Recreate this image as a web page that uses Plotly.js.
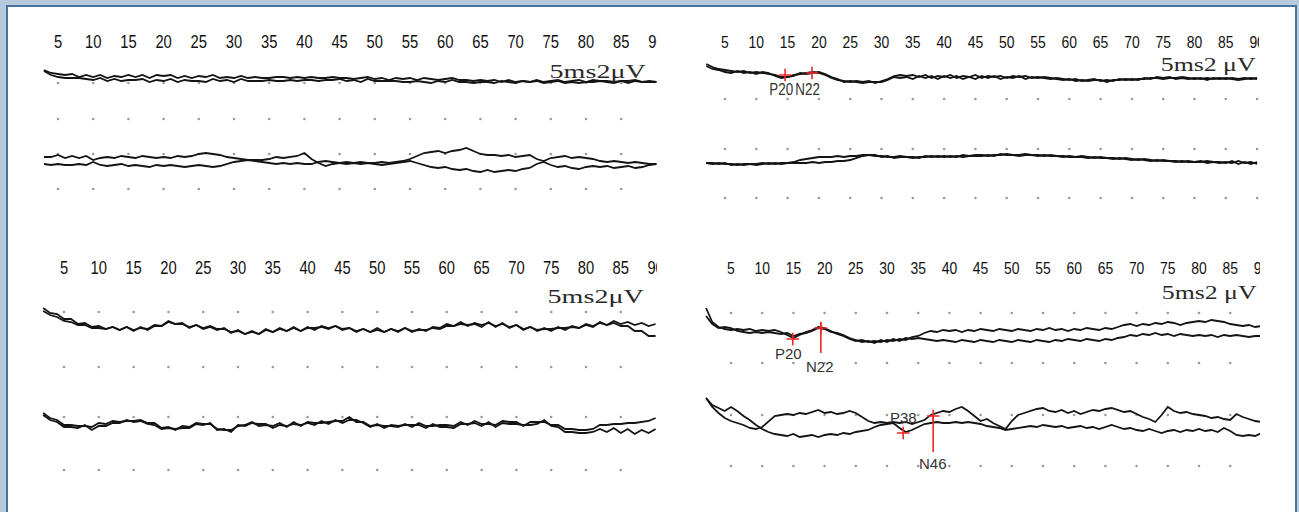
<!DOCTYPE html>
<html><head><meta charset="utf-8">
<script src="https://cdn.plot.ly/plotly-3.0.1.min.js"></script>
<style>
html,body{margin:0;padding:0;background:#fff}
#chart{width:1299px;height:512px}
/* narrow the tick digits like the reference */
#chart .textpoint text{transform-box:fill-box;transform-origin:50% 50%;transform:scaleX(0.82)}
/* wide serif scale labels, anchored on their right edge */
#chart .annotation[data-index="0"] text,#chart .annotation[data-index="2"] text{transform-box:fill-box;transform-origin:100% 50%;transform:scaleX(1.48)}
#chart .annotation[data-index="1"] text,#chart .annotation[data-index="3"] text{transform-box:fill-box;transform-origin:100% 50%;transform:scaleX(1.36)}
/* narrow peak labels in the top-right panel */
#chart .annotation[data-index="4"] text,#chart .annotation[data-index="5"] text{transform-box:fill-box;transform-origin:50% 50%;transform:scaleX(0.84)}
</style>
</head><body><div id="chart"></div>
<script>
// ---------------- DATA ----------------
// time axis tick labels (ms)
const tickLabels = [5,10,15,20,25,30,35,40,45,50,55,60,65,70,75,80,85,90];
// traces: amplitude samples, one per ms, positive = up (display units, 0.1 µV)
// Top-left panel, channel 1 (samples from 3 ms)
const tl1a = [9,6,5,4,5,2,4,2,4,1, 3,2,4,2,4,1,4,3,4,1, 3,1,3,2,4,1,2,1,3,1, 2,1,1,2,2,1,2,1,2,1, 1,2,1,1,0,1,2,0,1,-1, 1,0,1,-1,1,0,-1,0,1,-1, -1,-2,-1,-2,-1,-3,-1,-3,-2,-3, -1,-3,-2,-1,-3,-2,-1,-3,-1,-2, -2,-3,-2,-2,-1,-3,-2,-3];
const tl1b = [8,4,2,1,1,1,0,-1,1,-2, 0,-2,-1,-1,0,-3,-1,-2,0,-3, -1,-2,-2,-3,0,-2,-1,-3,0,-2, -2,-2,-1,-2,-2,-1,-2,-1,-1,-2, -1,-1,0,-2,-1,-3,0,-2,-2,-2, -2,-3,-3,-2,-3,-4,-2,-3,-1,-3, -3,-4,-3,-3,-4,-2,-3,-4,-2,-3, -2,-4,-3,-2,-4,-3,-4,-3,-3,-2, -3,-4,-2,-4,-2,-3,-3,-3];
// Top-left panel, channel 2 (from 3 ms)
const tl2a = [4,4,6,3,5,3,5,1,3,4, 3,5,4,3,5,4,3,4,3,5, 4,5,7,8,7,6,4,3,2,1, 1,1,2,4,3,4,5,8,2,-2, -5,-3,-2,-1,-2,-1,-2,-2,-1,-2, -1,0,2,5,8,9,10,8,10,11, 13,10,7,6,6,5,6,4,5,6, 2,0,3,4,5,3,4,3,2,0, -1,0,-1,-2,-1,-2,-3,-3];
const tl2b = [-3,-4,-3,-4,-4,-3,-4,-1,-4,-5, -4,-3,-5,-4,-5,-6,-4,-5,-4,-5, -6,-5,-4,-5,-6,-5,-3,-1,0,1, 0,-1,-2,-3,-2,-3,-2,-3,-3,-1, 0,-1,-2,-3,-2,-3,-2,-3,-4,-3, -2,-1,0,-2,-4,-6,-7,-6,-8,-9, -8,-10,-11,-9,-11,-10,-9,-10,-8,-7, -3,-1,-4,-6,-5,-7,-8,-6,-5,-6, -5,-7,-6,-5,-7,-6,-4,-3];
// Top-right panel, channel 1 (from 2 ms)
const tr1a = [14,11,9,8,7,6,7,5,6,5, 4,3,1,1,3,4,5,6,5,3, 0,-2,-3,-4,-3,-4,-3,-5,-3,-1, 2,3,2,3,1,3,0,2,1,3, 0,2,1,3,0,2,1,2,0,2, 1,2,0,1,0,-1,0,-1,-2,-1, -3,-2,-1,-3,-2,-3,-1,-2,-1,-2, 0,-1,1,0,1,-1,0,-1,0,-1, 0,-1,0,-1,0,-1,0,-1,0];
const tr1b = [12,9,8,6,5,7,5,6,4,6, 5,2,0,1,2,5,4,5,6,4, 1,-1,-4,-3,-4,-5,-4,-4,-4,-2, 1,0,1,-1,2,0,2,-1,2,0, 2,-1,1,-1,2,0,2,-1,1,0, 2,-1,1,0,1,0,-1,-2,-1,-3, -2,-3,-2,-2,-4,-2,-2,-1,-2,-1, -1,0,0,-1,0,0,1,0,-1,0, -2,0,-1,0,-1,-2,-1,0,-1];
// Top-right panel, channel 2 (from 2 ms)
const tr2a = [-3,-4,-3,-4,-4,-5,-4,-4,-5,-4, -3,-4,-3,-3,-2,0,1,2,3,3, 3,4,3,4,4,5,5,4,4,3, 3,4,3,2,3,3,4,3,4,3, 4,3,4,5,5,4,5,5,6,5, 5,6,5,5,4,5,4,4,3,3, 4,3,2,3,2,2,1,2,1,0, 1,0,-1,0,-1,-1,-2,-1,-2,-2, -1,-2,-3,-2,-3,-1,-3,-2,-4];
const tr2b = [-3,-3,-4,-3,-5,-4,-5,-4,-4,-3, -4,-3,-4,-3,-3,-3,-3,-2,-3,-2, -2,-1,-1,0,2,4,5,5,3,4, 2,3,3,3,2,4,3,4,3,4, 3,5,4,4,4,5,4,6,5,5, 4,5,5,4,5,4,4,3,4,3, 3,2,3,2,2,1,2,1,0,1, 0,-1,0,-1,-1,-2,-1,-2,-2,-1, -3,-2,-2,-3,-1,-4,-2,-4,-2];
// Bottom-left panel, channel 1 (from 2 ms)
const bl1a = [20,15,14,9,9,4,5,1,2,-1, 1,-2,1,-2,0,-1,3,2,7,4, 4,1,3,0,2,-1,-1,-4,-3,-6, -4,-6,-2,-4,-1,-3,0,-3,1,-2, 2,0,2,-2,0,-3,-1,-4,-2,-4, -1,-3,0,-4,-1,-3,1,0,4,2, 6,2,5,3,5,2,4,1,3,-1, 1,-3,0,-3,1,-2,2,0,4,2, 5,3,7,4,6,3,5,2,4];
const bl1b = [17,13,11,7,6,3,3,0,0,-1, 1,-2,1,-3,1,-2,2,2,6,4, 5,0,3,-1,1,-2,0,-5,-2,-6, -3,-6,-1,-4,0,-3,1,-3,0,0, 1,-1,2,-1,0,-4,-1,-4,0,-4, -1,-4,0,-3,-2,-2,0,-1,2,2, 4,3,4,1,6,1,5,0,3,-2, 1,-2,-1,-1,0,0,1,0,3,1, 6,3,5,2,2,-3,-3,-8,-8];
// Bottom-left panel, channel 2 (from 2 ms)
const bl2a = [12,7,5,0,0,-1,-1,-2,2,1, 4,3,4,4,5,2,2,-3,-2,-5, -1,-2,2,1,1,-4,-5,-5,-1,0, 3,-1,0,-1,2,-2,3,-1,3,2, 2,3,4,4,8,3,3,-1,0,-1, -1,-2,1,-2,2,-1,-1,0,0,-1, 3,0,4,1,1,0,4,3,3,-1, 3,3,3,0,0,-4,-4,-5,-5,-4, 0,0,1,1,2,2,3,4,7];
const bl2b = [10,5,3,-2,-2,-3,0,-5,-1,-1, 2,2,5,3,4,1,0,-4,-3,-4, -3,-3,1,0,2,-5,-4,-7,0,-1, 2,1,1,-3,0,-1,1,0,2,0, 4,1,5,2,5,5,2,-2,1,-3, 0,-1,0,0,0,-3,1,-2,-2,-3, 1,1,2,-1,3,-2,2,1,1,0, 0,1,5,-1,-2,-7,-7,-8,-8,-7, -4,-7,-3,-8,-4,-9,-5,-8,-4];
// Bottom-right panel, channel 1 (from 1 ms)
const br1a = [22,8,3,1,0,1,0,1,-1,0, -1,0,-2,-5,-8,-5,-2,0,3,2, -1,-4,-6,-9,-11,-10,-12,-11,-12,-10, -11,-9,-10,-7,-6,-3,-1,-2,0,-1, 0,-2,0,-1,1,0,-1,1,0,-1, 1,0,-1,1,0,2,0,1,-1,1, 0,2,1,0,2,1,3,5,6,4, 6,5,7,6,8,7,5,7,8,9, 8,10,9,8,6,5,4,5,3,4];
const br1b = [14,6,2,3,2,-1,-2,-3,-2,-3, -2,-3,-4,-3,-6,-4,-3,-1,2,1, -2,-3,-5,-8,-10,-12,-11,-13,-10,-12, -9,-11,-8,-9,-8,-9,-10,-11,-10,-11, -12,-10,-11,-12,-10,-11,-12,-10,-11,-12, -10,-11,-12,-10,-11,-12,-10,-11,-9,-10, -11,-9,-10,-11,-9,-10,-8,-7,-5,-6, -4,-5,-3,-5,-4,-6,-4,-5,-6,-5, -6,-5,-7,-5,-6,-5,-6,-7,-6,-6];
// Bottom-right panel, channel 2 (from 1 ms)
const br2a = [25,18,15,12,16,12,7,3,-2,-6, -9,-11,-12,-13,-11,-14,-13,-12,-14,-12, -11,-12,-10,-11,-9,-8,-7,-4,-2,-1, 0,-5,-9,-7,-4,-1,0,1,0,0, 1,0,1,0,-1,-3,-4,-5,-7,-6, -5,-4,-3,-4,-2,-3,-4,-3,-5,-4, -3,-5,-4,-6,-4,-2,-4,-6,-5,-7, -8,-6,-8,-10,-8,-7,-9,-7,-8,-6, -8,-7,-9,-5,-8,-12,-13,-12,-13,-10];
const br2b = [25,16,10,5,2,0,-2,-5,-6,-4, 2,7,8,9,8,10,9,11,13,10, 11,9,10,12,10,6,2,0,1,0, 1,0,1,-1,1,3,8,10,12,11, 14,16,12,7,2,4,0,-3,-6,2, 8,10,12,14,15,12,11,13,10,12, 9,11,13,12,14,15,13,11,12,9, 6,4,1,8,16,12,10,11,9,8, 7,5,6,4,3,9,6,4,2,1];
// marked peaks: names, latency (ms), amplitude
const trPeakNames = ['P20','N22'];
const trPeakLat   = [14.6, 18.9];
const trPeakAmp   = [3, 5];
const br1PeakNames = ['P20','N22'];
const br1PeakLat   = [14.9, 19.4];
const br1PeakAmp   = [-9, 2];
const br2PeakNames = ['P38','N46'];
const br2PeakLat   = [32.6, 37.4];
const br2PeakAmp   = [-10, 7];
const scaleLabelA = '5ms2μV';
const scaleLabelB = '5ms2 μV';

// ---------------- LAYOUT CONFIG ----------------
const W = 1299, H = 512;
const panels = [
  {ax:'x',  px5:58,  pxMs:7.04, dom:[40,657],   tickY:44,  rows:[83,119,154,189], dotMax:85, label:scaleLabelA, lx:648,  ly:71,  tf:18},
  {ax:'x2', px5:725, pxMs:6.26, dom:[700,1259], tickY:44,  rows:[99,149,198],     dotMax:90, label:scaleLabelB, lx:1258, ly:64,  tf:17},
  {ax:'x3', px5:64,  pxMs:6.96, dom:[40,657],   tickY:270, rows:[312,367,417,470], dotMax:85, label:scaleLabelA, lx:646,  ly:296, tf:18},
  {ax:'x4', px5:731, pxMs:6.24, dom:[702,1260], tickY:270, rows:[313,363,415,466], dotMax:85, label:scaleLabelB, lx:1259, ly:292, tf:17}
];
const channels = [
  {p:0, base:79,  t0:3, a:tl1a, b:tl1b},
  {p:0, base:161, t0:3, a:tl2a, b:tl2b},
  {p:1, base:78,  t0:2, a:tr1a, b:tr1b},
  {p:1, base:160, t0:2, a:tr2a, b:tr2b},
  {p:2, base:328, t0:2, a:bl1a, b:bl1b},
  {p:2, base:425, t0:2, a:bl2a, b:bl2b},
  {p:3, base:330, t0:1, a:br1a, b:br1b},
  {p:3, base:423, t0:1, a:br2a, b:br2b}
];
const peakSets = [
  {ch:2, names:trPeakNames,  lat:trPeakLat,  amp:trPeakAmp,  lead:[null,null],   off:[[-4,-14],[-5,-16]], fs:16},
  {ch:6, names:br1PeakNames, lat:br1PeakLat, amp:br1PeakAmp, lead:[null,[5,-25]], off:[[-4,-14],[-1,-38]], fs:15},
  {ch:7, names:br2PeakNames, lat:br2PeakLat, amp:br2PeakAmp, lead:[null,[2,-36]], off:[[0,16],[0,-47]], fs:15}
];

const traces = [];
const annotations = [];
const layout = {
  width: W, height: H, margin:{l:0,r:0,t:0,b:0},
  paper_bgcolor:'#b7cbdf', plot_bgcolor:'rgba(0,0,0,0)', showlegend:false,
  yaxis:{range:[-H,0], domain:[0,1], visible:false, fixedrange:true},
  shapes:[{type:'rect', xref:'paper', yref:'paper', x0:7/W, x1:1296/W, y0:-0.05, y1:1-6/H,
           fillcolor:'#ffffff', line:{color:'#4b7399', width:2}, layer:'below'}],
  annotations: annotations
};

panels.forEach((p,i)=>{
  const key = i===0 ? 'xaxis' : 'xaxis'+(i+1);
  const r0 = 5 + (p.dom[0]-p.px5)/p.pxMs, r1 = 5 + (p.dom[1]-p.px5)/p.pxMs;
  layout[key] = {domain:[p.dom[0]/W, p.dom[1]/W], range:[r0,r1], visible:false, fixedrange:true, anchor:'y'};
  // tick labels (clipped at the panel edge like the reference)
  traces.push({type:'scatter', mode:'text', xaxis:p.ax, yaxis:'y', x:tickLabels, y:tickLabels.map(()=>-p.tickY),
    text:tickLabels.map(String), textposition:'middle center', cliponaxis:true, hoverinfo:'skip',
    textfont:{family:'Liberation Sans, Arial, sans-serif', size:p.tf, color:'#111111'}});
  // dot grid
  const dx=[], dy=[];
  p.rows.forEach(r=>tickLabels.filter(t=>t<=p.dotMax).forEach(t=>{dx.push(t); dy.push(-r);}));
  traces.push({type:'scatter', mode:'markers', xaxis:p.ax, yaxis:'y', x:dx, y:dy, hoverinfo:'skip',
    marker:{size:2.6, color:'#9a9a9a'}});
  // scale label
  annotations.push({xref:'paper', yref:'paper', x:p.lx/W, y:1-p.ly/H, xanchor:'right', yanchor:'middle', showarrow:false,
    text:p.label, font:{family:'Liberation Serif, Times New Roman, serif', size:19, color:'#2a2a2a'}});
});

channels.forEach(c=>{
  const p = panels[c.p];
  [c.a, c.b].forEach(arr=>{
    traces.push({type:'scatter', mode:'lines', xaxis:p.ax, yaxis:'y',
      x:arr.map((_,k)=>c.t0+k), y:arr.map(v=>v-c.base), hoverinfo:'skip',
      line:{color:'#141414', width:1.8}});
  });
});

peakSets.forEach(s=>{
  const c = channels[s.ch], p = panels[c.p];
  traces.push({type:'scatter', mode:'markers', xaxis:p.ax, yaxis:'y', x:s.lat, y:s.amp.map(v=>v-c.base), hoverinfo:'skip',
    marker:{symbol:'cross-thin', size:9, color:'#f02828', line:{color:'#f02828', width:1.6}}});
  s.lat.forEach((t,k)=>{
    const ld = s.lead[k];
    if(ld){
      traces.push({type:'scatter', mode:'lines', xaxis:p.ax, yaxis:'y', x:[t,t], y:[s.amp[k]+ld[0]-c.base, s.amp[k]+ld[1]-c.base],
        hoverinfo:'skip', line:{color:'#f02828', width:1.6}});
    }
    annotations.push({xref:p.ax, yref:'y', x:t, y:s.amp[k]-c.base, xshift:s.off[k][0], yshift:s.off[k][1], showarrow:false,
      text:s.names[k], font:{family:'Liberation Sans, Arial, sans-serif', size:s.fs, color:'#333333'}});
  });
});

Plotly.newPlot('chart', traces, layout, {staticPlot:true, displayModeBar:false});
</script>
</body></html>
